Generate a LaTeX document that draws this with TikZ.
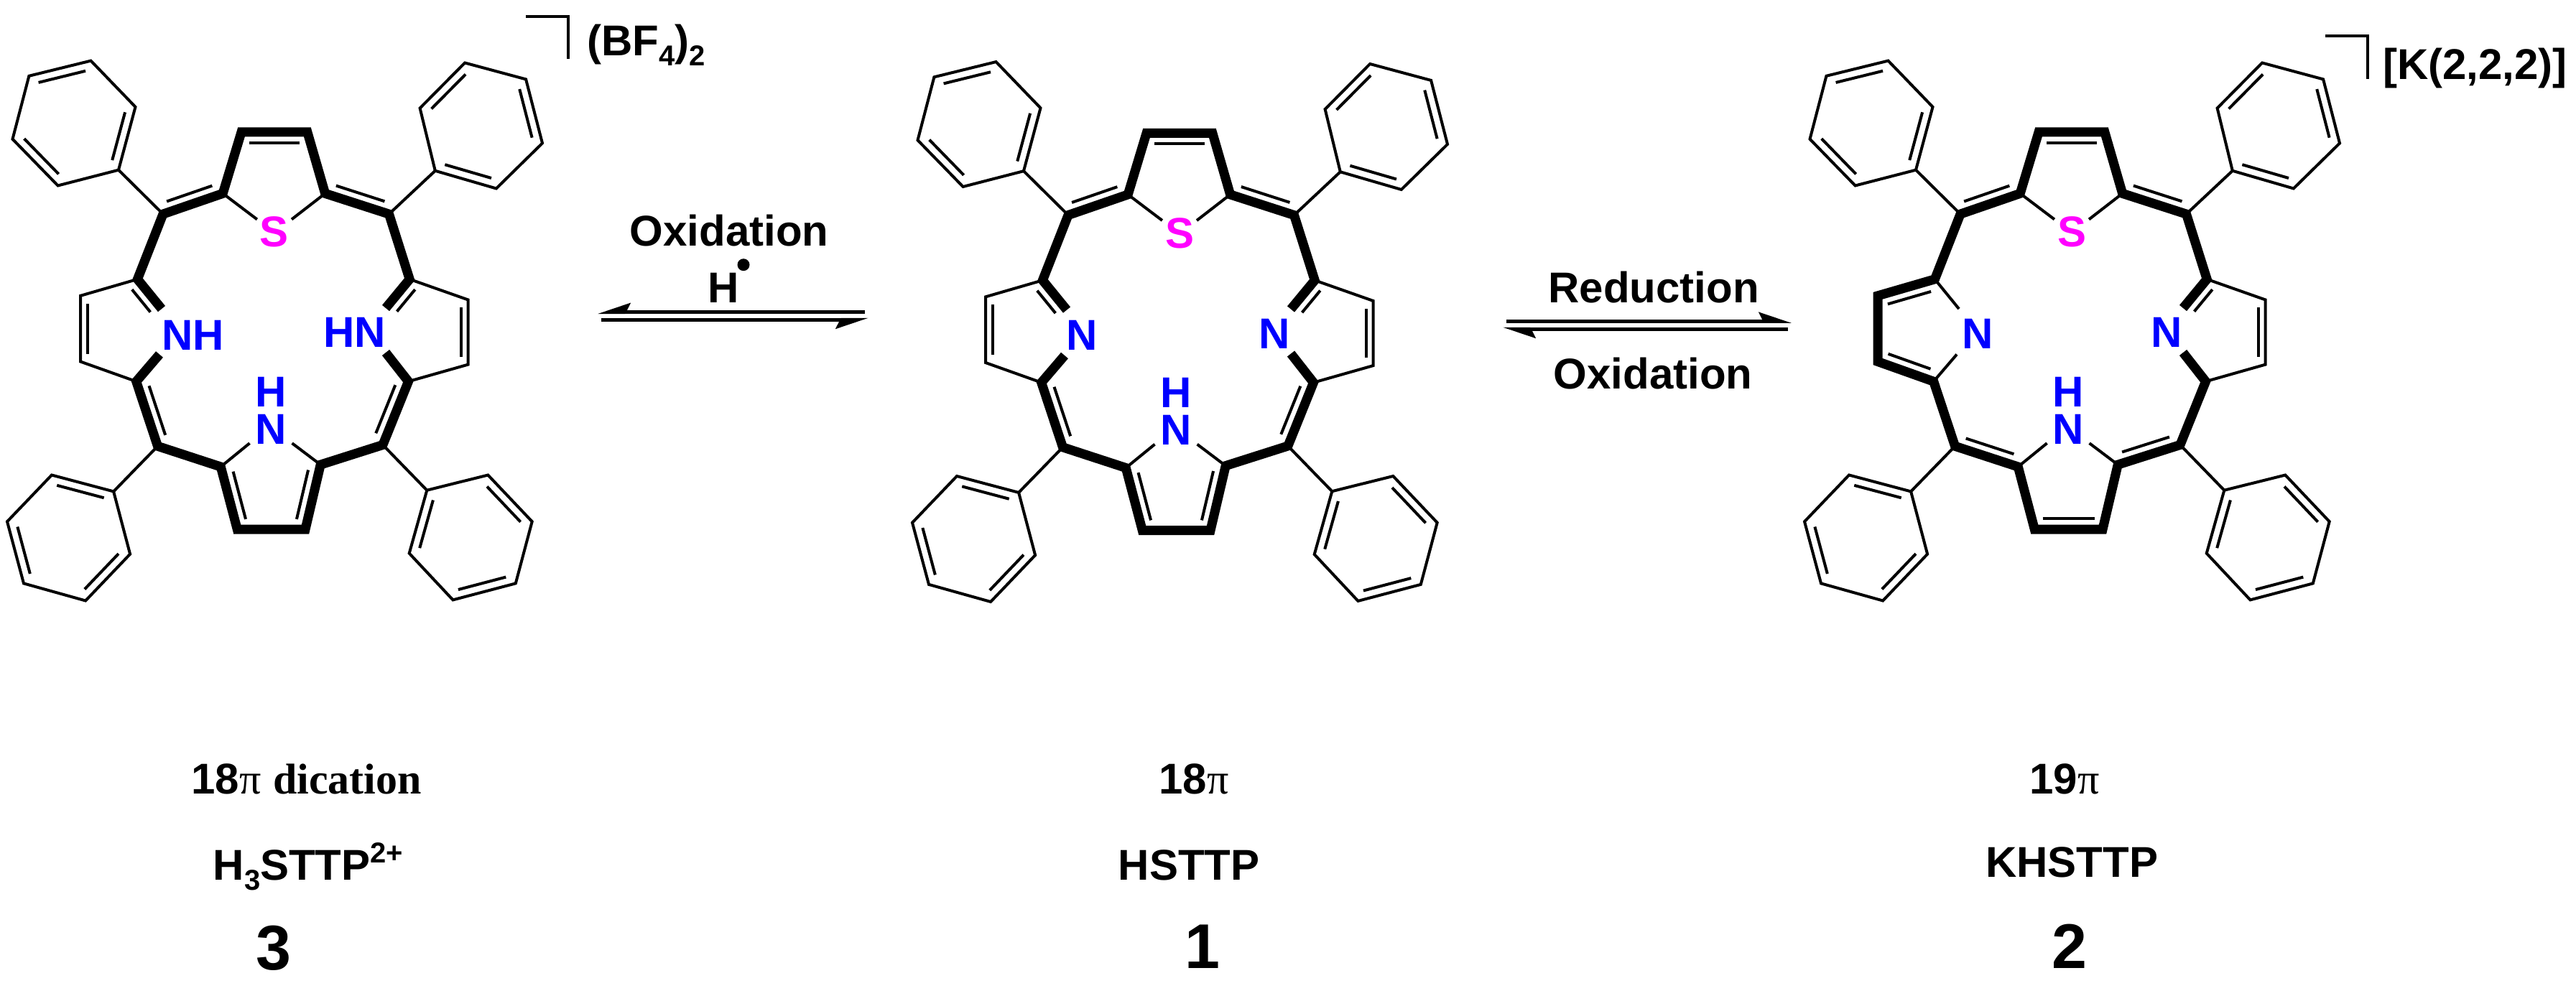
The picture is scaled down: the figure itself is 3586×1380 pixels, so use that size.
\documentclass[tikz,border=0pt]{standalone}
\usepackage{fontspec}
\setmainfont{Liberation Sans}
\newfontfamily\timesface{Liberation Serif}
\usetikzlibrary{arrows.meta,calc}

% inner line of a double bond, on the left of a->b
\newcommand{\dbl}[3][15]{
  \draw[fine] ($(#2)!.12!(#3)!#1pt!90:(#3)$) -- ($(#3)!.12!(#2)!-#1pt!90:(#2)$);
}
\newcommand{\sbs}[1]{\raisebox{-14pt}{\fontsize{40}{40}\selectfont #1}}
\newcommand{\spr}[1]{\raisebox{24pt}{\fontsize{40}{40}\selectfont #1}}

% one phenyl ring, counterclockwise from the carbon on the meso position
\newcommand{\phenyl}[7]{
  \coordinate (#1a) at #2;
  \coordinate (#1b) at #3;
  \coordinate (#1c) at #4;
  \coordinate (#1d) at #5;
  \coordinate (#1e) at #6;
  \coordinate (#1f) at #7;
  \draw[fine,line join=miter] (#1a) -- (#1b) -- (#1c) -- (#1d) -- (#1e) -- (#1f) -- cycle;
  \dbl[12]{#1a}{#1b}
  \dbl[12]{#1c}{#1d}
  \dbl[12]{#1e}{#1f}
}

% atoms and the bonds that all three molecules share
\newcommand{\skeleton}{
  \coordinate (ca1) at (-71.8,270.9);
  \coordinate (cb1) at (-46,185.5);
  \coordinate (cb2) at (45.9,185.5);
  \coordinate (ca2) at (70.6,270.9);
  \coordinate (m1) at (-155,299.6);
  \coordinate (m2) at (159.5,299.6);
  \coordinate (m3) at (-162.5,622.8);
  \coordinate (m4) at (150.9,621);
  \coordinate (cal1) at (-190.6,390.3);
  \coordinate (cbl1) at (-269.8,413.3);
  \coordinate (cbl2) at (-269.8,505.1);
  \coordinate (cal2) at (-192.3,532.7);
  \coordinate (car1) at (188.2,390.3);
  \coordinate (cbr1) at (269.7,419);
  \coordinate (cbr2) at (269.7,509.1);
  \coordinate (car2) at (186.5,532.7);
  \coordinate (cab1) at (-74.7,651.5);
  \coordinate (cbb1) at (-51.7,738.7);
  \coordinate (cbb2) at (43,738.7);
  \coordinate (cab2) at (64.2,648.6);
  % free ends of the bonds at the heteroatoms
  \coordinate (es1) at (-24.1,307);
  \coordinate (es2) at (24,307);
  \coordinate (el1) at (-157,431.6);
  \coordinate (el2) at (-160,495);
  \coordinate (er1) at (155,430.5);
  \coordinate (er2) at (155,492.5);
  \coordinate (eb1) at (-34.5,618.7);
  \coordinate (eb2) at (24.6,618.7);

  \phenyl{tl}{(-217,238.2)}{(-193.5,150.4)}{(-255.5,86.1)}{(-341.6,107.3)}{(-364.5,195.2)}{(-301.4,260)}
  \phenyl{tr}{(223.8,239.3)}{(308.8,264)}{(373,200.9)}{(350.1,111.9)}{(265.1,89)}{(202.6,152.1)}
  \phenyl{bl}{(-223.9,685.9)}{(-310,663)}{(-372,727.8)}{(-349,813.9)}{(-262.9,838)}{(-200.9,773.1)}
  \phenyl{br}{(212.3,684.2)}{(187.7,772)}{(248.5,836.9)}{(335.8,813.9)}{(358.7,727.8)}{(297.3,663)}

  \path
    (m1) edge [fine] (tla)
    (m2) edge [fine] (tra)
    (m3) edge [fine] (bla)
    (m4) edge [fine] (bra)
    (ca1) edge [fine] (es1)
    (ca2) edge [fine] (es2)
    (cab1) edge [fine] (eb1)
    (cab2) edge [fine] (eb2);

  \dbl{m1}{ca1}
  \dbl{ca2}{m2}
  \dbl{cb2}{cb1}
  \node[atom,text=atomS] (s) at (0,345) {S};
  \node[atompair,text=atomN] (nb) at (-4.6,620) {H\\N};
}

% the pattern of bold bonds in 3 and 1
\newcommand{\closedshell}{
  \draw[fine] (cal1) -- (cbl1) -- (cbl2) -- (cal2);
  \draw[fine] (car1) -- (cbr1) -- (cbr2) -- (car2);
  \dbl[10]{cbl1}{cbl2}
  \dbl[10]{cbr2}{cbr1}
  \draw[heavy] (el1) -- (cal1) -- (m1) -- (ca1) -- (cb1) -- (cb2) -- (ca2) -- (m2) -- (car1) -- (er1);
  \draw[heavy] (el2) -- (cal2) -- (m3) -- (cab1) -- (cbb1) -- (cbb2) -- (cab2) -- (m4) -- (car2) -- (er2);
  \dbl{el1}{cal1}
  \dbl{car1}{er1}
  \dbl{cal2}{m3}
  \dbl{m4}{car2}
  \dbl{cab1}{cbb1}
  \dbl{cbb2}{cab2}
}

\begin{document}
\begin{tikzpicture}[x=1pt,y=-1pt,align=center]
\definecolor{atomS}{RGB}{255,0,255}
\definecolor{atomN}{RGB}{0,0,255}
\tikzstyle{fine}=[line width=4pt]
\tikzstyle{heavy}=[line width=13pt,line join=miter]
\tikzstyle{rule}=[line width=4pt,line join=miter]
\tikzstyle{eqline}=[line width=5pt]
\tikzstyle{atom}=[inner sep=0pt,anchor=base,font=\bfseries\fontsize{60}{60}\selectfont]
\tikzstyle{atompair}=[inner sep=0pt,anchor=south,font=\bfseries\fontsize{60}{52}\selectfont]
\tikzstyle{title}=[inner sep=0pt,anchor=base,font=\bfseries\fontsize{60}{60}\selectfont]
\tikzstyle{number}=[inner sep=0pt,anchor=base,font=\bfseries\fontsize{88}{88}\selectfont]

\useasboundingbox (0,0) rectangle (3586,1380);

% molecule 3
\begin{scope}[shift={(382,-1.5)},name prefix=a-]
  \skeleton
  \closedshell
  \node[atom,text=atomN] (nl) at (-113,488.5) {NH};
  \node[atom,text=atomN] (nr) at (111.5,484.5) {HN};
\end{scope}

% molecule 1
\begin{scope}[shift={(1642,0)},name prefix=b-]
  \skeleton
  \closedshell
  \node[atom,text=atomN] (nl) at (-136,487) {N};
  \node[atom,text=atomN] (nr) at (132,485) {N};
\end{scope}

% molecule 2
\begin{scope}[shift={(2884,-1.5)},name prefix=c-]
  \skeleton
  \path
    (cal1) edge [fine] (el1)
    (cal2) edge [fine] (el2);
  \draw[fine] (car1) -- (cbr1) -- (cbr2) -- (car2);
  \dbl[10]{cbr2}{cbr1}
  \draw[heavy] (er1) -- (car1) -- (m2) -- (ca2) -- (cb2) -- (cb1) -- (ca1) -- (m1) -- (cal1) -- (cbl1) -- (cbl2) -- (cal2) -- (m3) -- (cab1) -- (cbb1) -- (cbb2) -- (cab2) -- (m4) -- (car2) -- (er2);
  \dbl{car1}{er1}
  \dbl{cal1}{cbl1}
  \dbl{cbl2}{cal2}
  \dbl{m3}{cab1}
  \dbl{cab2}{m4}
  \dbl{cbb1}{cbb2}
  \node[atom,text=atomN] (nl) at (-131,487) {N};
  \node[atom,text=atomN] (nr) at (132,485) {N};
\end{scope}

% counter ions
\coordinate (ba) at (732,23);
\coordinate (bb) at (791,23);
\coordinate (bc) at (791,82);
\draw[rule] (ba) -- (bb) -- (bc);
\node[title,anchor=base west] (ion3) at (817,77.5) {(BF\sbs{4})\sbs{2}};
\coordinate (ka) at (3237,50.5);
\coordinate (kb) at (3296,50.5);
\coordinate (kc) at (3296,110);
\draw[rule] (ka) -- (kb) -- (kc);
\node[title] (ion2) at (3445.5,111) {[K(2,2,2)]};

% equilibrium 3 / 1
\coordinate (ea) at (1204,434.5);
\coordinate (eb) at (832,434.5);
\coordinate (ec) at (837,445.3);
\coordinate (ed) at (1209,445.3);
\draw[eqline,-{Stealth[right,length=38pt,width=25pt,inset=6pt]}] (ea) -- (eb);
\draw[eqline,-{Stealth[right,length=38pt,width=25pt,inset=6pt]}] (ec) -- (ed);
\node[title] (ox3) at (1015,342) {Oxidation};
\node[title] (h3) at (1007.5,421.7) {H};
\node[circle,fill=black,inner sep=0pt,minimum size=17pt] (hdot) at (1035,368.7) {};

% equilibrium 1 / 2
\coordinate (fa) at (2097,447.3);
\coordinate (fb) at (2494,447.3);
\coordinate (fc) at (2489,458.3);
\coordinate (fd) at (2092,458.3);
\draw[eqline,-{Stealth[left,length=38pt,width=25pt,inset=6pt]}] (fa) -- (fb);
\draw[eqline,-{Stealth[left,length=38pt,width=25pt,inset=6pt]}] (fc) -- (fd);
\node[title] (red) at (2302,421.7) {Reduction};
\node[title] (ox2) at (2301,541.7) {Oxidation};

% captions
\node[title] (pi3) at (426.7,1105) {18{\timesface\mdseries π} {\timesface dication}};
\node[title] (nm3) at (429,1225.7) {H\sbs{3}STTP\spr{2+}};
\node[number] (no3) at (381,1350) {3};
\node[title] (pi1) at (1662,1105) {18{\timesface\mdseries π}};
\node[title] (nm1) at (1655,1225.7) {HSTTP};
\node[number] (no1) at (1674,1348) {1};
\node[title] (pi2) at (2874,1105) {19{\timesface\mdseries π}};
\node[title] (nm2) at (2884,1221.7) {KHSTTP};
\node[number] (no2) at (2881,1348) {2};
\end{tikzpicture}
\end{document}
